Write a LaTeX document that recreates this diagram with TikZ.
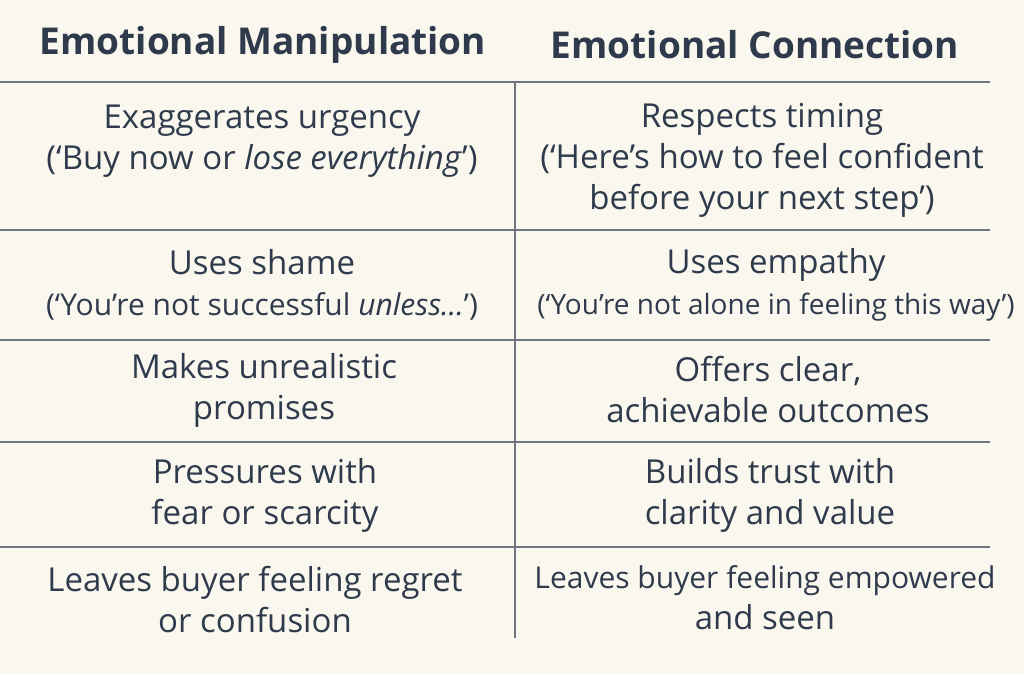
\documentclass[tikz,border=0pt]{standalone}
\usepackage{fontspec}
\setmainfont{Open Sans}
\definecolor{paper}{HTML}{FAF8EE}
\definecolor{ink}{HTML}{2F3B4C}
\definecolor{rule}{HTML}{6E7480}
\tikzset{
  head/.style={text=ink, font=\fontsize{37}{40}\selectfont\bfseries, inner sep=0pt},
  cell/.style={text=ink, font=\fontsize{33}{41}\selectfont, align=center, inner sep=0pt},
  sep/.style={draw=rule, line width=1.2pt}
}
\begin{document}
\begin{tikzpicture}[x=1pt,y=-1pt]
\fill[paper] (0,0) rectangle (1024,674);
\useasboundingbox (0,0) rectangle (1024,674);
% headers
\node[head] (hl) at (263,45) {Emotional Manipulation};
\node[head] (hr) at (755,45) {Emotional Connection};
% rules
\foreach \y in {82,230,340,442,547}
  \draw[sep] (0,\y) -- (990,\y);
\draw[sep] (515,82) -- (515,638);
% left column
\node[cell] (l1) at (262,141) {Exaggerates urgency\\(‘Buy now or \textit{lose everything}’)};
\node[cell] (l2) at (262,285) {Uses shame\\{\fontsize{30}{41}\selectfont(‘You’re not successful \textit{unless…}’)}};
\node[cell] (l3) at (264,390) {Makes unrealistic\\promises};
\node[cell] (l4) at (265,495) {Pressures with\\fear or scarcity};
\node[cell] (l5) at (255,600) {Leaves buyer feeling regret\\or confusion};
% right column
\node[cell] (r1) at (762,160) {Respects timing\\(‘Here’s how to feel confident\\before your next step’)};
\node[cell] (r2) at (776,285) {Uses empathy\\{\fontsize{28}{41}\selectfont(‘You’re not alone in feeling this way’)}};
\node[cell] (r3) at (768,390) {Offers clear,\\achievable outcomes};
\node[cell] (r4) at (770,495) {Builds trust with\\clarity and value};
\node[cell] (r5) at (765,598) {{\fontsize{30}{41}\selectfont Leaves buyer feeling empowered}\\and seen};
\end{tikzpicture}
\end{document}
